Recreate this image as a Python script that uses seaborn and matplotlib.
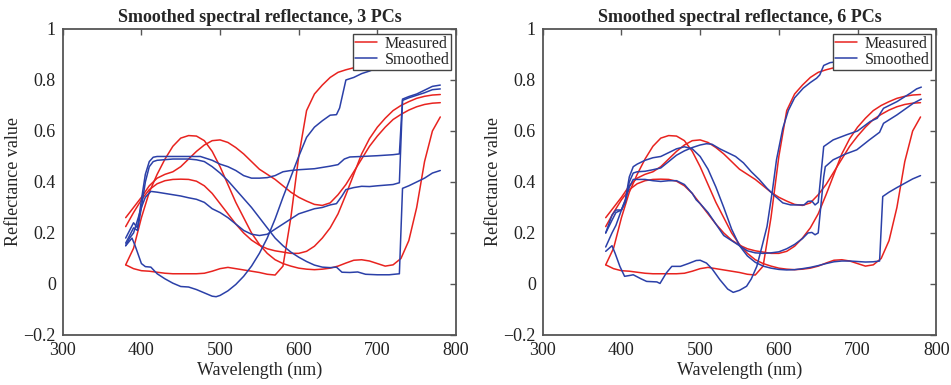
import numpy as np
import pandas as pd
import matplotlib
matplotlib.use('Agg')
import matplotlib.pyplot as plt
import seaborn as sns

# measured spectra (same four samples in both panels), 10 nm grid
wl_measured = list(range(380, 790, 10))
measured_1 = [0.075, 0.06, 0.052, 0.05, 0.046, 0.042, 0.04, 0.04, 0.04, 0.04,
              0.042, 0.05, 0.06, 0.065, 0.06, 0.055, 0.05, 0.045, 0.038, 0.035,
              0.07, 0.26, 0.5, 0.68, 0.745, 0.78, 0.81, 0.83, 0.84, 0.848,
              0.853, 0.86, 0.865, 0.87, 0.873, 0.876, 0.878, 0.88, 0.882, 0.884, 0.885]
measured_2 = [0.075, 0.14, 0.26, 0.36, 0.43, 0.49, 0.54, 0.572, 0.582, 0.58,
              0.562, 0.52, 0.46, 0.39, 0.32, 0.26, 0.2, 0.155, 0.12, 0.095,
              0.08, 0.07, 0.062, 0.058, 0.056, 0.058, 0.062, 0.07, 0.082, 0.093,
              0.095, 0.09, 0.08, 0.07, 0.075, 0.1, 0.17, 0.3, 0.48, 0.6, 0.655]
measured_3 = [0.26, 0.3, 0.34, 0.385, 0.415, 0.43, 0.44, 0.46, 0.49, 0.52,
              0.545, 0.562, 0.565, 0.555, 0.535, 0.51, 0.48, 0.45, 0.43, 0.41,
              0.385, 0.36, 0.34, 0.325, 0.312, 0.308, 0.318, 0.35, 0.39, 0.44,
              0.49, 0.54, 0.58, 0.615, 0.645, 0.665, 0.682, 0.695, 0.704, 0.709, 0.711]
measured_4 = [0.225, 0.28, 0.33, 0.37, 0.393, 0.405, 0.41, 0.411, 0.41, 0.403,
              0.385, 0.355, 0.315, 0.275, 0.235, 0.2, 0.172, 0.152, 0.138, 0.13,
              0.125, 0.12, 0.12, 0.128, 0.148, 0.18, 0.22, 0.275, 0.35, 0.43,
              0.51, 0.57, 0.615, 0.65, 0.68, 0.7, 0.715, 0.728, 0.736, 0.741, 0.743]

# smoothed with 3 PCs
wl_s3_1 = [380, 388, 392, 400, 405, 412, 420, 430, 440, 450, 460, 470, 480, 490, 495,
           500, 510, 520, 530, 540, 550, 560, 570, 580, 590, 600, 610, 620, 630, 640,
           648, 652, 660, 670, 680, 690, 700, 710, 720, 730, 740, 750, 760, 770, 780]
s3_1 = [0.15, 0.18, 0.15, 0.08, 0.068, 0.066, 0.04, 0.02, 0.003, -0.01, -0.012, -0.022,
        -0.035, -0.048, -0.05, -0.045, -0.027, -0.002, 0.03, 0.07, 0.12, 0.18, 0.255,
        0.34, 0.42, 0.5, 0.575, 0.615, 0.64, 0.662, 0.664, 0.69, 0.8, 0.81, 0.825,
        0.835, 0.848, 0.86, 0.87, 0.875, 0.88, 0.885, 0.888, 0.89, 0.892]
wl_s3_2 = [380, 390, 395, 400, 405, 410, 415, 420, 440, 460, 470, 480, 490, 500, 510,
           520, 530, 540, 550, 560, 570, 580, 590, 600, 610, 620, 630, 640, 648, 655,
           665, 675, 685, 700, 715, 728, 732, 740, 750, 760, 770, 780]
s3_2 = [0.16, 0.22, 0.21, 0.3, 0.4, 0.46, 0.48, 0.485, 0.49, 0.49, 0.487, 0.48, 0.46,
        0.435, 0.405, 0.37, 0.335, 0.3, 0.26, 0.22, 0.18, 0.15, 0.125, 0.105, 0.088,
        0.074, 0.066, 0.064, 0.066, 0.046, 0.045, 0.047, 0.038, 0.036, 0.036, 0.04,
        0.375, 0.385, 0.4, 0.415, 0.435, 0.445]
wl_s3_3 = [380, 390, 395, 400, 405, 410, 415, 420, 440, 460, 475, 480, 490, 500, 510,
           520, 530, 540, 550, 560, 570, 580, 590, 600, 610, 620, 630, 640, 650, 658,
           665, 680, 700, 720, 728, 732, 740, 750, 760, 770, 780]
s3_3 = [0.18, 0.24, 0.22, 0.33, 0.43, 0.48, 0.497, 0.5, 0.5, 0.5, 0.5, 0.495, 0.485,
        0.47, 0.46, 0.445, 0.425, 0.415, 0.415, 0.417, 0.425, 0.44, 0.445, 0.448, 0.45,
        0.452, 0.457, 0.462, 0.468, 0.49, 0.498, 0.5, 0.503, 0.507, 0.51, 0.725, 0.735,
        0.745, 0.76, 0.775, 0.78]
wl_s3_4 = [380, 385, 390, 395, 400, 405, 412, 420, 430, 440, 450, 460, 470, 480, 490,
           500, 510, 520, 530, 540, 550, 560, 570, 580, 590, 600, 610, 620, 630, 640,
           648, 655, 660, 670, 680, 690, 700, 720, 728, 732, 740, 750, 760, 770, 780]
s3_4 = [0.15, 0.18, 0.2, 0.25, 0.3, 0.34, 0.363, 0.36, 0.355, 0.35, 0.345, 0.338, 0.332,
        0.32, 0.295, 0.28, 0.26, 0.235, 0.21, 0.195, 0.19, 0.195, 0.215, 0.235, 0.255,
        0.275, 0.285, 0.295, 0.3, 0.31, 0.315, 0.345, 0.37, 0.378, 0.383, 0.382, 0.385,
        0.39, 0.397, 0.72, 0.73, 0.74, 0.75, 0.762, 0.765]

# smoothed with 6 PCs
wl_s6_1 = [380, 388, 392, 398, 404, 410, 415, 425, 432, 445, 449, 457, 464, 475, 485,
           495, 500, 508, 515, 525, 535, 542, 550, 559, 565, 572, 578, 585, 592, 597,
           605, 612, 620, 631, 640, 648, 652, 657, 665, 675, 690, 700, 720, 740, 760, 780]
s6_1 = [0.128, 0.15, 0.12, 0.069, 0.03, 0.033, 0.036, 0.02, 0.01, 0.008, 0.002, 0.043,
        0.069, 0.069, 0.08, 0.092, 0.093, 0.082, 0.06, 0.017, -0.02, -0.033, -0.025,
        -0.009, 0.02, 0.069, 0.14, 0.226, 0.37, 0.487, 0.61, 0.68, 0.73, 0.768, 0.79,
        0.807, 0.82, 0.857, 0.868, 0.872, 0.88, 0.885, 0.89, 0.895, 0.9, 0.905]
wl_s6_2 = [380, 388, 393, 400, 405, 410, 415, 420, 430, 440, 450, 460, 470, 480, 490,
           500, 510, 520, 530, 540, 550, 560, 570, 580, 590, 600, 610, 620, 630, 640,
           650, 660, 670, 680, 690, 700, 710, 720, 728, 732, 740, 750, 760, 770, 780]
s6_2 = [0.2, 0.27, 0.29, 0.29, 0.33, 0.42, 0.46, 0.47, 0.485, 0.495, 0.5, 0.515, 0.53,
        0.538, 0.53, 0.5, 0.45, 0.38, 0.3, 0.215, 0.15, 0.11, 0.085, 0.07, 0.062, 0.057,
        0.055, 0.056, 0.06, 0.065, 0.072, 0.08, 0.087, 0.09, 0.09, 0.088, 0.086, 0.087,
        0.09, 0.343, 0.36, 0.378, 0.395, 0.412, 0.425]
wl_s6_3 = [380, 388, 393, 400, 405, 410, 415, 420, 430, 440, 450, 460, 470, 480, 490,
           500, 508, 515, 525, 535, 545, 555, 565, 575, 585, 595, 605, 615, 625, 632,
           637, 642, 646, 650, 657, 669, 686, 700, 716, 725, 733, 750, 767, 775, 781]
s6_3 = [0.2, 0.25, 0.28, 0.29, 0.32, 0.4, 0.435, 0.44, 0.442, 0.448, 0.455, 0.48, 0.505,
        0.522, 0.535, 0.545, 0.55, 0.548, 0.53, 0.515, 0.5, 0.475, 0.44, 0.41, 0.375,
        0.345, 0.318, 0.31, 0.31, 0.31, 0.324, 0.325, 0.31, 0.32, 0.539, 0.565, 0.585,
        0.6, 0.637, 0.65, 0.689, 0.715, 0.748, 0.765, 0.772]
wl_s6_4 = [380, 388, 393, 400, 405, 410, 415, 420, 430, 440, 450, 460, 470, 480, 490,
           495, 500, 510, 520, 530, 540, 550, 560, 570, 580, 590, 600, 610, 620, 630,
           637, 642, 646, 650, 657, 659, 669, 685, 699, 715, 728, 733, 750, 771, 781]
s6_4 = [0.145, 0.2, 0.23, 0.29, 0.33, 0.38, 0.41, 0.41, 0.41, 0.405, 0.402, 0.405, 0.405,
        0.39, 0.355, 0.33, 0.315, 0.28, 0.235, 0.19, 0.17, 0.15, 0.13, 0.122, 0.12, 0.122,
        0.126, 0.138, 0.155, 0.178, 0.2, 0.202, 0.193, 0.2, 0.42, 0.46, 0.487, 0.51,
        0.526, 0.565, 0.595, 0.63, 0.663, 0.709, 0.725]

titles = ['Smoothed spectral reflectance, 3 PCs', 'Smoothed spectral reflectance, 6 PCs']
yticks = [-0.2, 0, 0.2, 0.4, 0.6, 0.8, 1]
ytick_labels = ['\u22120.2', '0', '0.2', '0.4', '0.6', '0.8', '1']
xticks = [300, 400, 500, 600, 700, 800]

measured = [measured_1, measured_2, measured_3, measured_4]
smoothed_3 = [(wl_s3_1, s3_1), (wl_s3_2, s3_2), (wl_s3_3, s3_3), (wl_s3_4, s3_4)]
smoothed_6 = [(wl_s6_1, s6_1), (wl_s6_2, s6_2), (wl_s6_3, s6_3), (wl_s6_4, s6_4)]


def build_frame(smoothed):
    rows = []
    for i, vals in enumerate(measured):
        rows.append(pd.DataFrame({'wavelength': wl_measured, 'reflectance': vals,
                                  'kind': 'Measured', 'curve': f'm{i}'}))
    for i, (wl, vals) in enumerate(smoothed):
        rows.append(pd.DataFrame({'wavelength': wl, 'reflectance': vals,
                                  'kind': 'Smoothed', 'curve': f's{i}'}))
    return pd.concat(rows, ignore_index=True)


sns.set_theme(style='white')
plt.rcParams['font.family'] = ['Liberation Serif', 'DejaVu Serif']
plt.rcParams['axes.unicode_minus'] = True

fig = plt.figure(figsize=(9.51, 3.85), dpi=100)
ax_pos = [[0.066, 0.13, 0.4135, 0.7947], [0.5707, 0.13, 0.4138, 0.7947]]
palette = {'Measured': '#e8231f', 'Smoothed': '#2b40a8'}

for k, smoothed in enumerate([smoothed_3, smoothed_6]):
    ax = fig.add_axes(ax_pos[k])
    df = build_frame(smoothed)
    sns.lineplot(data=df, x='wavelength', y='reflectance', hue='kind', units='curve',
                 estimator=None, sort=False, palette=palette,
                 hue_order=['Measured', 'Smoothed'], linewidth=1.1, ax=ax)
    ax.set_xlim(300, 800)
    ax.set_ylim(-0.2, 1)
    ax.set_xticks(xticks)
    ax.set_yticks(yticks)
    ax.set_yticklabels(ytick_labels)
    ax.tick_params(direction='in', top=True, right=True, length=4, width=1,
                   color='#555555', labelsize=13, labelcolor='#222222', pad=5)
    for sp in ax.spines.values():
        sp.set_color('#555555')
        sp.set_linewidth(1.3)
    ax.set_xlabel('Wavelength (nm)', fontsize=13, labelpad=2)
    ax.set_ylabel('Reflectance value', fontsize=13, labelpad=1)
    ax.set_title(titles[k], fontsize=13, fontweight='bold', pad=5)
    h, l = ax.get_legend_handles_labels()
    leg = ax.legend(h, l, loc='upper right', fontsize=11.5, frameon=True, fancybox=False,
                    framealpha=1, edgecolor='#444444', handlelength=1.4,
                    handletextpad=0.45, borderpad=0.12, labelspacing=0.0,
                    borderaxespad=0.3)
    leg.get_frame().set_linewidth(1.0)

fig.savefig('out.png', dpi=100)
